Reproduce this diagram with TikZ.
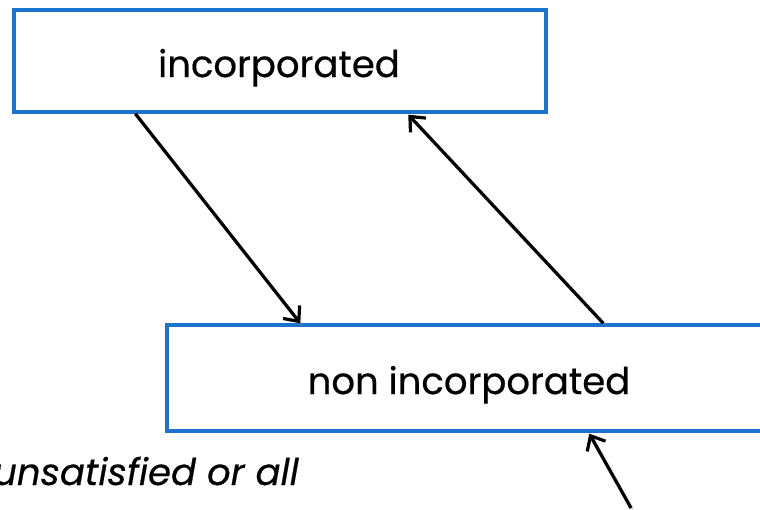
\documentclass[tikz,border=0pt]{standalone}
\usepackage{fontspec}
\setmainfont{Poppins}
\newfontfamily\statefont[FakeBold=0.5]{Poppins}
\usetikzlibrary{arrows.meta}
\definecolor{boxblue}{HTML}{1A73CC}
\tikzset{
  statebox/.style={draw=boxblue, line width=3.4pt, fill=white, inner sep=0pt},
  label text/.style={anchor=base, inner sep=0pt, font=\statefont\fontsize{37}{44}\selectfont},
  arrshadow/.style={draw=black!45, opacity=0.3, line width=3.2pt,
    transform canvas={shift={(1.6pt,-1.6pt)}}},
  arr/.style={draw=black, line width=3.2pt,
    -{Straight Barb[length=12pt,width=21pt,line width=3.2pt]}},
}
\begin{document}
\begin{tikzpicture}[x=1pt,y=-1pt]
  \useasboundingbox (0,0) rectangle (760,509);
  \begin{scope}
    \clip (0,0) rectangle (760,509);
    % the two states
    \node[statebox, minimum width=532pt, minimum height=102pt] (b1) at (280,61) {};
    \node[statebox, minimum width=606pt, minimum height=106pt] (b2) at (470,378) {};
    \node[label text] (t1) at (279,77) {incorporated};
    \node[label text] (t2) at (469,394) {non incorporated};
    % caption under the lower state
    \node[anchor=base east, inner sep=0pt, font=\statefont\fontsize{37}{44}\selectfont\itshape] (lbl) at (299,485) {unsatisfied or all};
    \coordinate (src) at (631,508);
    % soft shadows of the transitions
    \draw[arrshadow] ([xshift=123pt]b1.south west) -- ([xshift=135pt]b2.north west);
    \draw[arrshadow] ([xshift=438pt]b2.north west) -- ([xshift=396pt,yshift=-1pt]b1.south west);
    \draw[arrshadow] (src) -- ([xshift=424pt,yshift=-1pt]b2.south west);
    % transitions
    \draw[arr] ([xshift=123pt]b1.south west) -- ([xshift=135pt]b2.north west);
    \draw[arr] ([xshift=438pt]b2.north west) -- ([xshift=396pt,yshift=-1pt]b1.south west);
    \draw[arr] (src) -- ([xshift=424pt,yshift=-1pt]b2.south west);
  \end{scope}
\end{tikzpicture}
\end{document}
